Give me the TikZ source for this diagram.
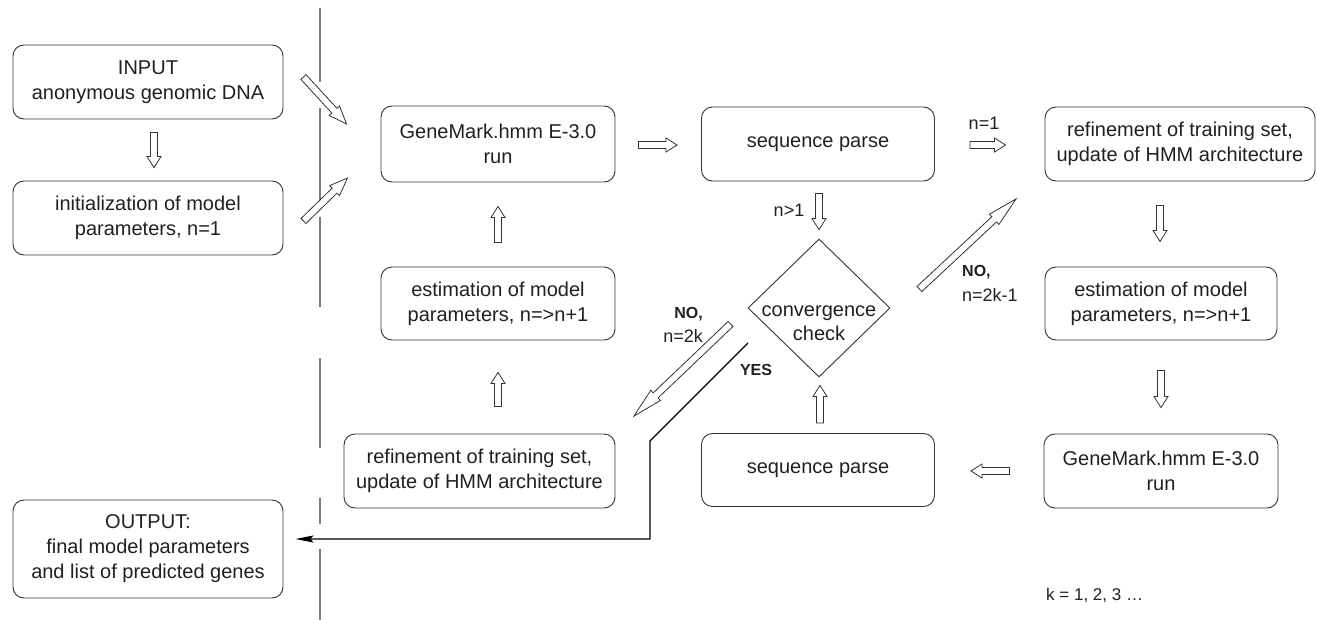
\documentclass[tikz,border=0pt]{standalone}
\usepackage{fontspec}
\setmainfont{Liberation Sans}
\usetikzlibrary{shapes.geometric,calc,arrows.meta}
\definecolor{txt}{HTML}{231F20}
\definecolor{boxc}{HTML}{333333}
\definecolor{arrc}{HTML}{333333}
\definecolor{divc}{HTML}{7A7A7A}
\tikzset{
  box/.style={draw=boxc, line width=0.9pt, rounded corners=11pt, align=center, inner sep=0pt,
    font=\fontsize{20}{25}\selectfont, text=txt},
  harrow/.style={draw=arrc, line width=0.8pt, fill=white, line join=miter},
  lbl/.style={font=\fontsize{18}{22}\selectfont, text=txt, inner sep=0pt},
  blbl/.style={font=\bfseries\fontsize{16}{20}\selectfont, text=txt, inner sep=0pt},
  yesline/.style={draw=black, line width=1.2pt, -{Stealth[length=18pt,width=7pt,inset=3pt]}},
  divider/.style={draw=divc, line width=1.2pt},
  decision/.style={diamond, draw=boxc, line width=0.9pt, inner sep=0pt, minimum width=142, minimum height=138}
}
% hollow block arrow from #2 to #3, head length #1
\newcommand{\blockarrow}[3][11]{%
  \path let \p1=#2, \p2=#3 in \pgfextra{%
    \pgfmathsetmacro\baangL{atan2(\y2-\y1,\x2-\x1)}%
    \pgfmathsetmacro\balenL{veclen(\x2-\x1,\y2-\y1)}%
    \pgfmathsetmacro\baxL{\x1}%
    \pgfmathsetmacro\bayL{\y1}%
    \xdef\baang{\baangL}\xdef\balen{\balenL}\xdef\bax{\baxL}\xdef\bay{\bayL}};
  \draw[harrow,shift={(\bax pt,\bay pt)},rotate=\baang]
    (0,-3.5) -- ({\balen-#1},-3.5) -- ({\balen-#1},-7) -- (\balen,0)
    -- ({\balen-#1},7) -- ({\balen-#1},3.5) -- (0,3.5) -- cycle;
}
\begin{document}
\begin{tikzpicture}[x=1pt,y=-1pt]
\useasboundingbox (0,0) rectangle (1317,621);

% divider line
\draw[divider] (320,8) -- (320,82) (320,108) -- (320,200) (320,217) -- (320,307)
  (320,358) -- (320,448) (320,498) -- (320,524) (320,549) -- (320,620);

% left column
\node[box, minimum width=270, minimum height=74] (input) at (148,82) {INPUT\\anonymous genomic DNA};
\node[box, minimum width=270, minimum height=74] (init) at (148,218) {initialization of model\\parameters, n=1};
\node[box, minimum width=270, minimum height=98] (output) at (148,549) {OUTPUT:\\final model parameters\\and list of predicted genes};

% middle-left column
\node[box, minimum width=234, minimum height=76] (gm1) at (498,144) {GeneMark.hmm E-3.0\\run};
\node[box, minimum width=234, minimum height=73] (est1) at (498,303.5) {estimation of model\\parameters, n=>n+1};
\node[box, minimum width=271, minimum height=74] (ref1) at (479.5,471) {refinement of training set,\\update of HMM architecture};

% center column
\node[box, minimum width=233, minimum height=74] (sp1) at (818,144) {sequence parse};
\node[decision] (dia) at (819,308) {};
\node[align=center, inner sep=0pt, font=\fontsize{20}{24}\selectfont, text=txt] (diatxt) at ($(dia.center)+(0,15)$) {convergence\\check};
\node[box, minimum width=233, minimum height=73] (sp2) at (818,470) {sequence parse};

% right column
\node[box, minimum width=270, minimum height=74] (ref2) at (1180,144) {refinement of training set,\\update of HMM architecture};
\node[box, minimum width=232, minimum height=73] (est2) at (1161,303.5) {estimation of model\\parameters, n=>n+1};
\node[box, minimum width=234, minimum height=74] (gm2) at (1161,471) {GeneMark.hmm E-3.0\\run};

% hollow arrows
\blockarrow{($(input.south)+(6,13)$)}{($(init.north)+(6,-13)$)}
\blockarrow[18]{($(input.east)+(20,-5)$)}{($(gm1.west)+(-34,-20)$)}
\blockarrow[18]{($(init.east)+(20,3)$)}{($(gm1.west)+(-33,34)$)}
\blockarrow{($(gm1.east)+(23,1)$)}{($(sp1.west)+(-24,1)$)}
\blockarrow{($(sp1.east)+(35,1)$)}{($(ref2.west)+(-39,1)$)}
\blockarrow{($(sp1.south)+(1,12)$)}{($(dia.north)+(0,-9)$)}
\blockarrow[30]{($(dia.east)+(29,-19)$)}{($(ref2.south west)+(-28,17)$)}
\blockarrow{($(ref2.south)+(-20,24)$)}{($(est2.north)+(-1,-25)$)}
\blockarrow{($(est2.south)+(0,30)$)}{($(gm2.north)+(0,-26)$)}
\blockarrow{($(gm2.west)+(-34,0)$)}{($(sp2.east)+(36,1)$)}
\blockarrow{($(sp2.north)+(2,-10)$)}{($(dia.south)+(1,8)$)}
\blockarrow[30]{($(dia.west)+(-17,16)$)}{($(ref1.north east)+(18,-17)$)}
\blockarrow{($(ref1.north)+(18.5,-27)$)}{($(est1.south)+(0,32)$)}
\blockarrow{($(est1.north)+(0,-24)$)}{($(gm1.south)+(0,24)$)}

% YES connector
\coordinate (yes0) at ($(dia.center)+(-71,35)$);
\coordinate (yes1) at (650,441);
\draw[yesline] (yes0) -- (yes1) |- ($(output.east)+(12,-10)$);

% labels
\node[lbl] at (984,123) {n=1};
\node[lbl] at (789,210) {n>1};
\node[blbl, anchor=west] at (962,272) {NO,};
\node[lbl, anchor=west] at (962,295) {n=2k-1};
\node[blbl, anchor=east] at (703,314) {NO,};
\node[lbl, anchor=east] at (703,336) {n=2k};
\node[blbl] at (756,370) {YES};
\node[lbl, anchor=west, font=\fontsize{17}{20}\selectfont] at (1046,595) {k = 1, 2, 3 …};
\end{tikzpicture}
\end{document}
